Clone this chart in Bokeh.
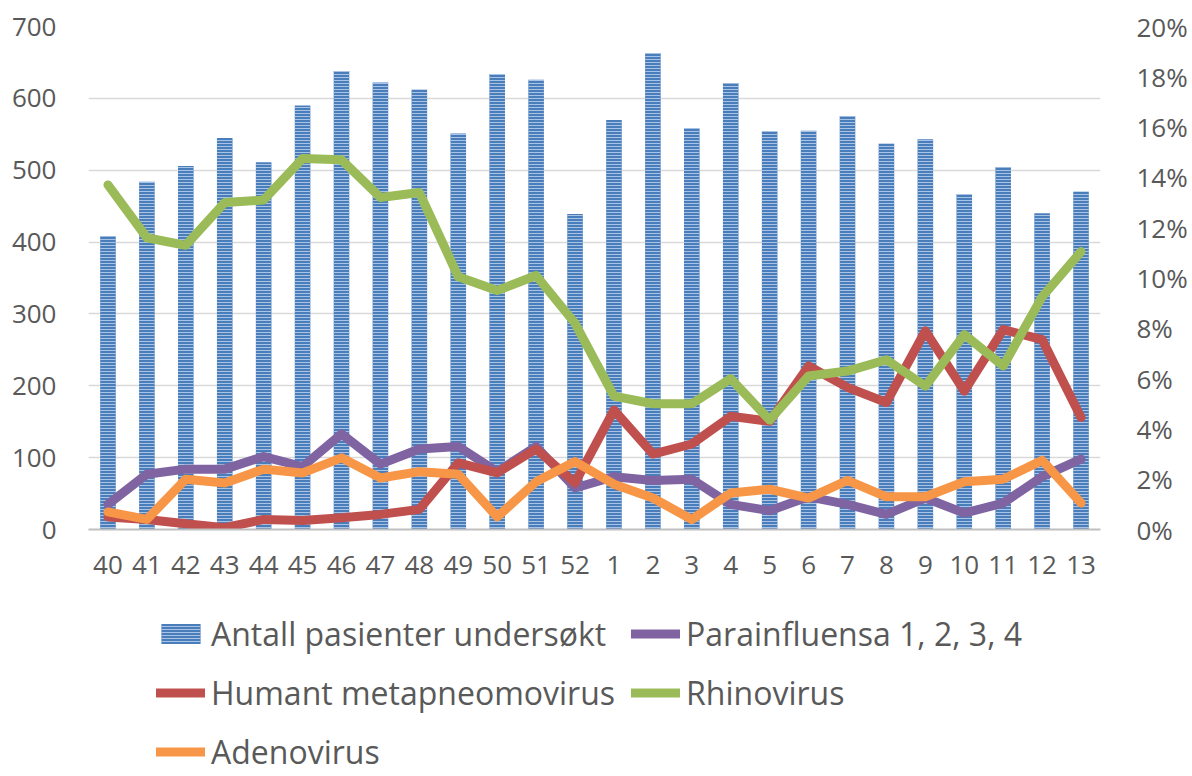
from bokeh.plotting import figure
from bokeh.layouts import column
from bokeh.models import (Range1d, LinearAxis, FixedTicker, PrintfTickFormatter,
                          Legend, LegendItem, FactorRange)
from bokeh.embed import file_html
from bokeh.resources import INLINE

weeks = ["40", "41", "42", "43", "44", "45", "46", "47", "48", "49", "50", "51", "52",
         "1", "2", "3", "4", "5", "6", "7", "8", "9", "10", "11", "12", "13"]
antall = [408, 484, 506, 545, 511, 590, 638, 622, 612, 551, 634, 626, 439,
          570, 663, 558, 621, 554, 555, 575, 537, 543, 467, 504, 440, 470]
parainfluensa = [1.0, 2.2, 2.4, 2.4, 2.9, 2.5, 3.8, 2.6, 3.2, 3.3, 2.3, 3.3, 1.65,
                 2.1, 1.95, 2.0, 1.0, 0.75, 1.3, 1.0, 0.6, 1.25, 0.65, 1.05, 2.1, 2.8]
hmpv = [0.5, 0.4, 0.23, 0.07, 0.4, 0.36, 0.47, 0.6, 0.8, 2.65, 2.25, 3.2, 1.85,
        4.75, 3.0, 3.4, 4.5, 4.3, 6.5, 5.65, 5.05, 7.9, 5.5, 7.95, 7.55, 4.45]
rhinovirus = [13.7, 11.6, 11.3, 13.0, 13.1, 14.75, 14.7, 13.2, 13.4, 10.05, 9.5, 10.1, 8.2,
              5.3, 5.0, 5.0, 6.0, 4.35, 6.1, 6.3, 6.75, 5.7, 7.75, 6.5, 9.25, 11.05]
adenovirus = [0.7, 0.4, 2.0, 1.85, 2.4, 2.25, 2.85, 2.05, 2.3, 2.2, 0.5, 1.9, 2.7,
              1.8, 1.25, 0.4, 1.45, 1.6, 1.25, 1.95, 1.3, 1.3, 1.9, 2.0, 2.75, 1.05]
left_ticks = [0, 100, 200, 300, 400, 500, 600, 700]
right_ticks = [0, 2, 4, 6, 8, 10, 12, 14, 16, 18, 20]

FONT = "Open Sans"
TXT = "#595959"
BAR_STYLE = dict(fill_color="#4A7EBB", line_color=None, hatch_pattern="horizontal_line",
                 hatch_color="#A9C3E6", hatch_scale=3, hatch_weight=1)
LINE_STYLE = dict(line_width=9, line_cap="round", line_join="round")
series = [("Parainfluensa 1, 2, 3, 4", parainfluensa, "#8064A2"),
          ("Humant metapneomovirus", hmpv, "#C0504D"),
          ("Rhinovirus", rhinovirus, "#9BBB59"),
          ("Adenovirus", adenovirus, "#F79646")]

p = figure(width=1190, height=590, x_range=FactorRange(*weeks, range_padding=0),
           y_range=Range1d(0, 700), output_backend="svg", toolbar_location=None,
           min_border_left=88, min_border_right=83, min_border_top=26, min_border_bottom=61)
p.outline_line_color = None
p.extra_y_ranges = {"pct": Range1d(0, 20)}

p.vbar(x=weeks, top=antall, width=0.4, **BAR_STYLE)
for name, vals, col in series:
    p.line(x=weeks, y=vals, y_range_name="pct", line_color=col, **LINE_STYLE)

p.yaxis.ticker = FixedTicker(ticks=left_ticks)
for ax in [p.xaxis[0], p.yaxis[0]]:
    ax.major_tick_line_color = None
    ax.minor_tick_line_color = None
    ax.major_label_text_font = FONT
    ax.major_label_text_font_size = "26px"
    ax.major_label_text_color = TXT
p.yaxis.axis_line_color = None
p.yaxis.major_label_standoff = 26
p.xaxis.axis_line_color = "#BFBFBF"
p.xaxis.axis_line_width = 2
p.xaxis.major_label_standoff = 20

rax = LinearAxis(y_range_name="pct", ticker=FixedTicker(ticks=right_ticks),
                 formatter=PrintfTickFormatter(format="%d%%"))
rax.axis_line_color = None
rax.major_tick_line_color = None
rax.minor_tick_line_color = None
rax.major_label_text_font = FONT
rax.major_label_text_font_size = "26px"
rax.major_label_text_color = TXT
rax.major_label_standoff = 30
p.add_layout(rax, "right")

p.xgrid.grid_line_color = None
p.ygrid.grid_line_color = "#D9D9D9"
p.ygrid.grid_line_width = 1.5

# legend panel: a second figure whose ranges keep its copies of the series out of view,
# so that only the legend (with its swatches) shows
q = figure(width=1190, height=184, x_range=FactorRange(*weeks, range_padding=0),
           y_range=Range1d(1000, 1001), output_backend="svg", toolbar_location=None,
           min_border_left=0, min_border_right=0, min_border_top=0, min_border_bottom=0)
q.axis.visible = False
q.grid.visible = False
q.outline_line_color = None
lb = q.vbar(x=weeks, top=antall, width=0.4, **BAR_STYLE)
items = [LegendItem(label="Antall pasienter undersøkt", renderers=[lb])]
for name, vals, col in series:
    r = q.line(x=weeks, y=vals, line_color=col, **LINE_STYLE)
    items.append(LegendItem(label=name, renderers=[r]))
legend = Legend(items=items, orientation="horizontal", ncols=2, location=(68, 1),
                glyph_width=49, glyph_height=25, label_standoff=6, spacing=16,
                padding=0, margin=0, border_line_color=None, background_fill_alpha=0,
                label_text_font=FONT, label_text_font_size="32px", label_text_color=TXT)
q.add_layout(legend, "center")

open("out.html", "w").write(file_html(column(p, q, spacing=0), INLINE))
